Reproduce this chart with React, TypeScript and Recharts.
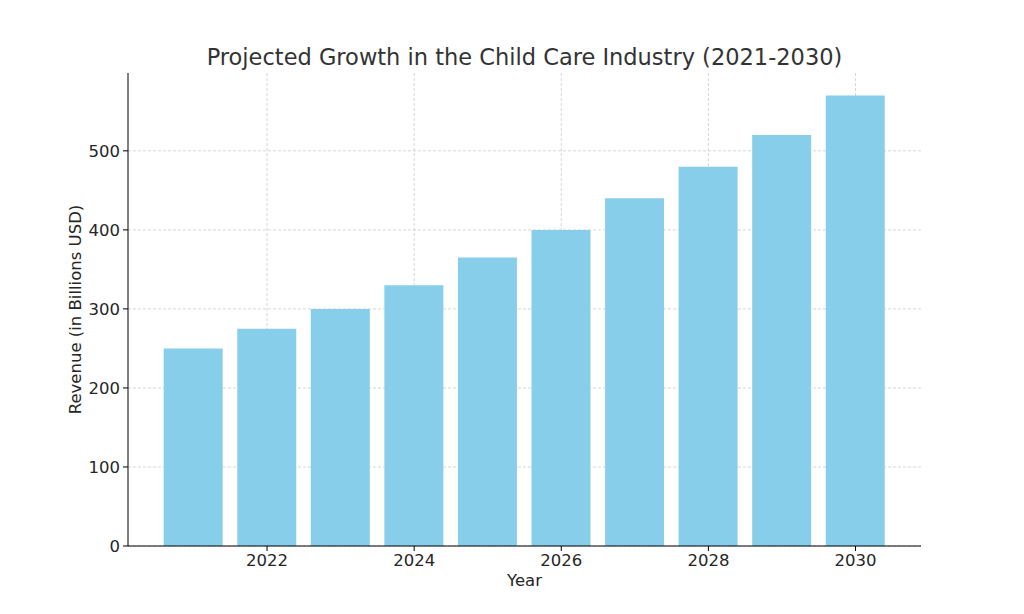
import { BarChart, Bar, XAxis, YAxis, CartesianGrid } from 'recharts'

const years = [2021, 2022, 2023, 2024, 2025, 2026, 2027, 2028, 2029, 2030]
const revenue = [250, 275, 300, 330, 365, 400, 440, 480, 520, 570]
const yearTicks = [2022, 2024, 2026, 2028, 2030]
const revenueTicks = [0, 100, 200, 300, 400, 500]

const data = years.map((year, i) => ({ year, revenue: revenue[i] }))

const FONT = '"DejaVu Sans", sans-serif'
const TEXT = '#262626'

export default function App() {
  return (
    <div style={{ position: 'relative', width: 1024, height: 614, background: '#fff', fontFamily: FONT }}>
      <style>{`body { margin: 0; }`}</style>
      <div
        style={{
          position: 'absolute', top: 42, left: 128, width: 793, textAlign: 'center',
          fontSize: 22.5, color: '#333', lineHeight: '30px',
        }}
      >
        Projected Growth in the Child Care Industry (2021-2030)
      </div>
      <BarChart
        width={1024}
        height={614}
        data={data}
        margin={{ top: 73, right: 103, bottom: 38, left: 68 }}
      >
        <CartesianGrid
          stroke="#cccccc"
          strokeDasharray="3 2"
          strokeWidth={0.8}
          horizontalValues={revenueTicks}
          verticalValues={yearTicks}
        />
        <XAxis
          type="number"
          dataKey="year"
          domain={[2020.11, 2030.89]}
          ticks={yearTicks}
          allowDataOverflow
          height={30}
          stroke="#000"
          tickSize={5}
          tick={{ fill: TEXT, fontSize: 16.5, fontFamily: FONT }}
          tickMargin={3}
          label={{ value: 'Year', position: 'insideBottom', offset: -10, fill: TEXT, fontSize: 16.5, fontFamily: FONT }}
        />
        <YAxis
          type="number"
          domain={[0, 598.5]}
          ticks={revenueTicks}
          allowDataOverflow
          width={60}
          stroke="#000"
          tickSize={5}
          tick={{ fill: TEXT, fontSize: 16.5, fontFamily: FONT }}
          tickMargin={3}
          label={{
            value: 'Revenue (in Billions USD)', angle: -90, position: 'insideLeft', offset: 7,
            style: { textAnchor: 'middle' }, fill: TEXT, fontSize: 16.5, fontFamily: FONT,
          }}
        />
        <Bar dataKey="revenue" fill="#87CEEB" barSize={59} isAnimationActive={false} />
      </BarChart>
    </div>
  )
}
